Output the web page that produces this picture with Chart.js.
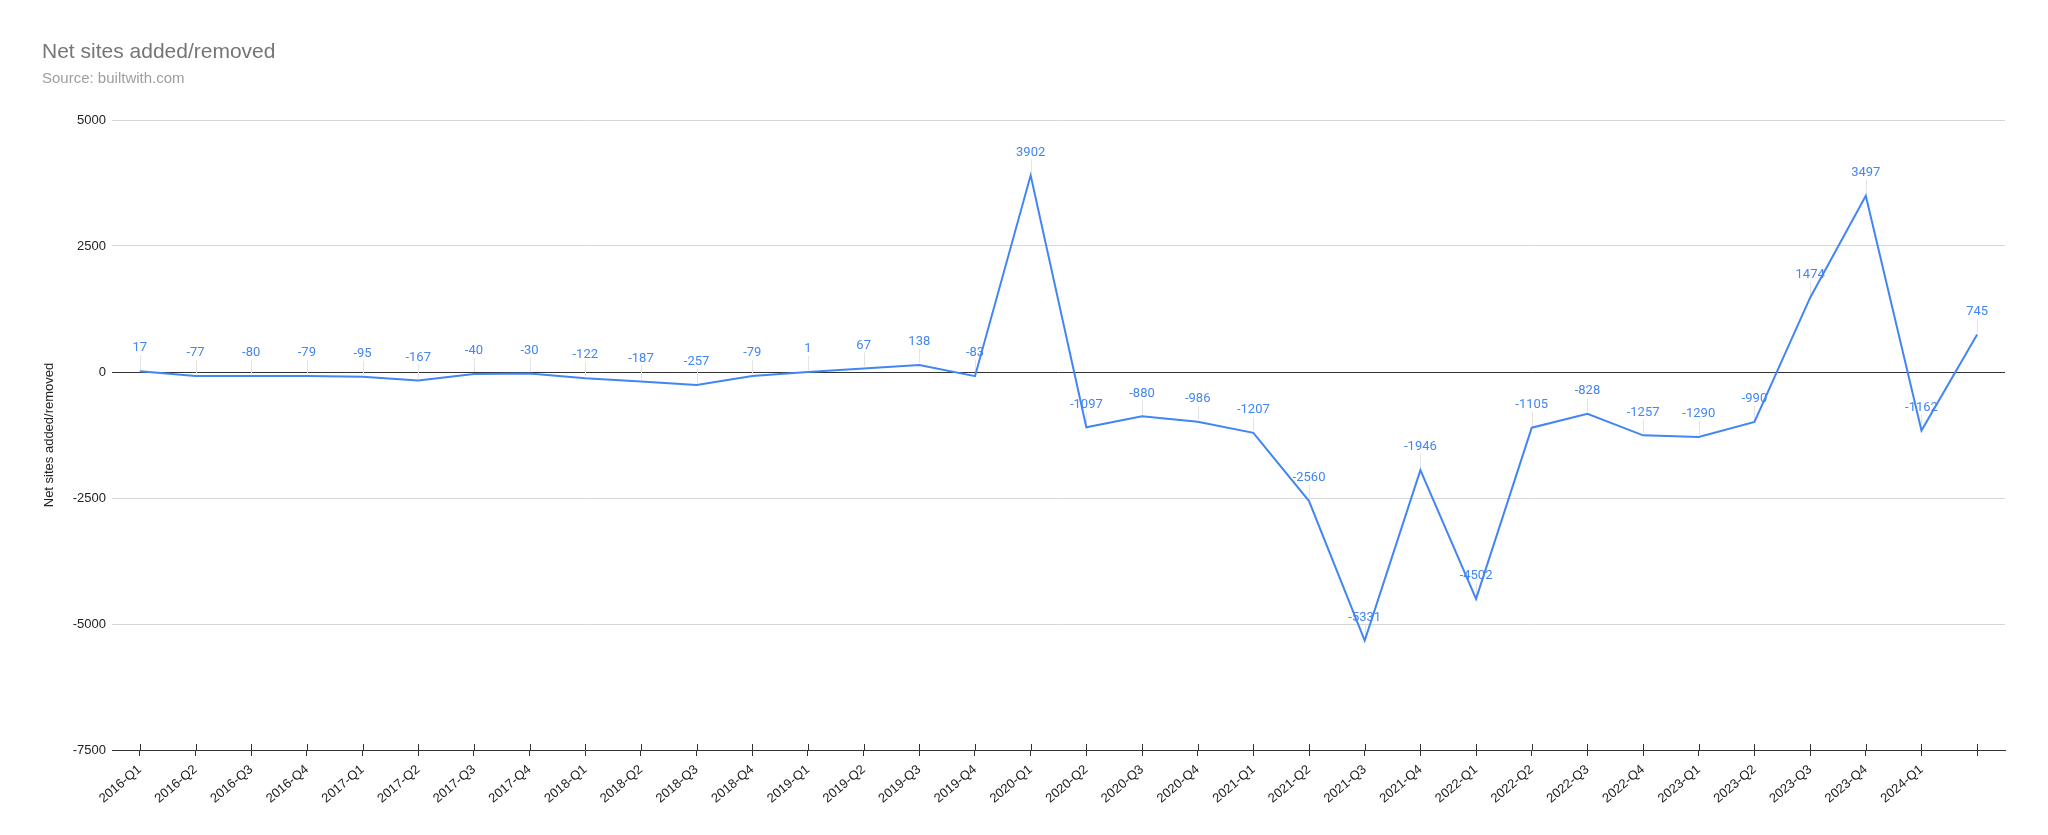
<!DOCTYPE html>
<html>
<head>
<meta charset="utf-8">
<script src="https://cdn.jsdelivr.net/npm/chart.js@4.4.1/dist/chart.umd.min.js"></script>
<style>
  html, body { margin: 0; padding: 0; background: #fff; }
  #wrap { width: 2048px; height: 835px; position: relative; }
</style>
</head>
<body>
<div id="wrap"><canvas id="c" width="2048" height="835"></canvas></div>
<script>
const categories = [
  '2016-Q1','2016-Q2','2016-Q3','2016-Q4',
  '2017-Q1','2017-Q2','2017-Q3','2017-Q4',
  '2018-Q1','2018-Q2','2018-Q3','2018-Q4',
  '2019-Q1','2019-Q2','2019-Q3','2019-Q4',
  '2020-Q1','2020-Q2','2020-Q3','2020-Q4',
  '2021-Q1','2021-Q2','2021-Q3','2021-Q4',
  '2022-Q1','2022-Q2','2022-Q3','2022-Q4',
  '2023-Q1','2023-Q2','2023-Q3','2023-Q4',
  '2024-Q1','2024-Q2'
];
const netSites = [
  17, -77, -80, -79,
  -95, -167, -40, -30,
  -122, -187, -257, -79,
  1, 67, 138, -83,
  3902, -1097, -880, -986,
  -1207, -2560, -5331, -1946,
  -4502, -1105, -828, -1257,
  -1290, -990, 1474, 3497,
  -1162, 745
];
const yTicks = [-7500, -5000, -2500, 0, 2500, 5000];
const titleText = 'Net sites added/removed';
const subtitleText = 'Source: builtwith.com';
const yAxisTitle = 'Net sites added/removed';

const LINE_COLOR = '#4285F4';
const AXIS_FONT = 'Arial, "Liberation Sans", sans-serif';

const dataLabels = {
  id: 'dataLabels',
  beforeDatasetsDraw(chart) {
    const ctx = chart.ctx;
    const meta = chart.getDatasetMeta(0);
    ctx.save();
    ctx.strokeStyle = '#e3e3e3';
    ctx.lineWidth = 1;
    meta.data.forEach((pt) => {
      const x = Math.round(pt.x) + 0.5;
      ctx.beginPath();
      ctx.moveTo(x, pt.y - 2);
      ctx.lineTo(x, pt.y - 16);
      ctx.stroke();
    });
    ctx.restore();
  },
  afterDatasetsDraw(chart) {
    const ctx = chart.ctx;
    const meta = chart.getDatasetMeta(0);
    const vals = chart.data.datasets[0].data;
    ctx.save();
    ctx.fillStyle = LINE_COLOR;
    ctx.font = '13px Roboto, Arial, sans-serif';
    ctx.textAlign = 'center';
    ctx.textBaseline = 'middle';
    meta.data.forEach((pt, i) => {
      ctx.fillText(String(vals[i]), pt.x, pt.y - 23);
    });
    ctx.restore();
  }
};

const tickMarksUp = {
  id: 'tickMarksUp',
  afterDraw(chart) {
    const sx = chart.scales.x;
    const ctx = chart.ctx;
    const bottom = chart.chartArea.bottom;
    ctx.save();
    ctx.strokeStyle = '#333';
    ctx.lineWidth = 1;
    sx.ticks.forEach((t, i) => {
      const x = Math.round(sx.getPixelForTick(i)) + 0.5;
      ctx.beginPath();
      ctx.moveTo(x, bottom - 6);
      ctx.lineTo(x, bottom);
      ctx.stroke();
    });
    ctx.restore();
  }
};

new Chart(document.getElementById('c'), {
  type: 'line',
  data: {
    labels: categories,
    datasets: [{
      label: 'Net sites added/removed',
      data: netSites,
      borderColor: LINE_COLOR,
      backgroundColor: LINE_COLOR,
      borderWidth: 2,
      tension: 0,
      pointRadius: 0,
      pointHoverRadius: 0,
      fill: false
    }]
  },
  options: {
    responsive: false,
    animation: false,
    devicePixelRatio: 1,
    layout: { padding: { left: 42, right: 43, top: 0, bottom: 0 } },
    plugins: {
      legend: { display: false },
      tooltip: { enabled: false },
      title: {
        display: true,
        text: titleText,
        align: 'start',
        color: '#757575',
        font: { family: AXIS_FONT, size: 21, weight: 'normal', lineHeight: 1.2 },
        padding: { top: 40, bottom: 0 }
      },
      subtitle: {
        display: true,
        text: subtitleText,
        align: 'start',
        color: '#9e9e9e',
        font: { family: AXIS_FONT, size: 15, weight: 'normal', lineHeight: 1.2 },
        padding: { top: 4.5, bottom: 32.3 }
      }
    },
    scales: {
      x: {
        type: 'category',
        offset: true,
        grid: {
          display: true,
          drawOnChartArea: false,
          drawTicks: true,
          tickLength: 6,
          tickColor: '#333',
          offset: false
        },
        border: { display: true, color: '#333', width: 1 },
        ticks: {
          autoSkip: false,
          minRotation: 40,
          maxRotation: 40,
          padding: 6,
          color: '#222',
          font: { family: AXIS_FONT, size: 13 },
          callback: function(value, index) {
            return index === categories.length - 1 ? '' : this.getLabelForValue(value);
          }
        },
        afterFit(scale) { scale.height = 85; }
      },
      y: {
        min: yTicks[0],
        max: yTicks[yTicks.length - 1],
        afterBuildTicks(scale) { scale.ticks = yTicks.map(v => ({ value: v })); },
        grid: {
          drawTicks: false,
          color: (c) => c.tick && c.tick.value === 0 ? '#333' : '#d6d6d6',
          lineWidth: 1
        },
        border: { display: false },
        ticks: {
          padding: 6,
          color: '#222',
          font: { family: AXIS_FONT, size: 13 },
          callback: (v) => String(v)
        },
        title: {
          display: true,
          text: yAxisTitle,
          color: '#222',
          font: { family: AXIS_FONT, size: 13 },
          padding: { top: 0, bottom: 0 }
        },
        afterFit(scale) { scale.width = 70; }
      }
    }
  },
  plugins: [dataLabels, tickMarksUp]
});
</script>
</body>
</html>
